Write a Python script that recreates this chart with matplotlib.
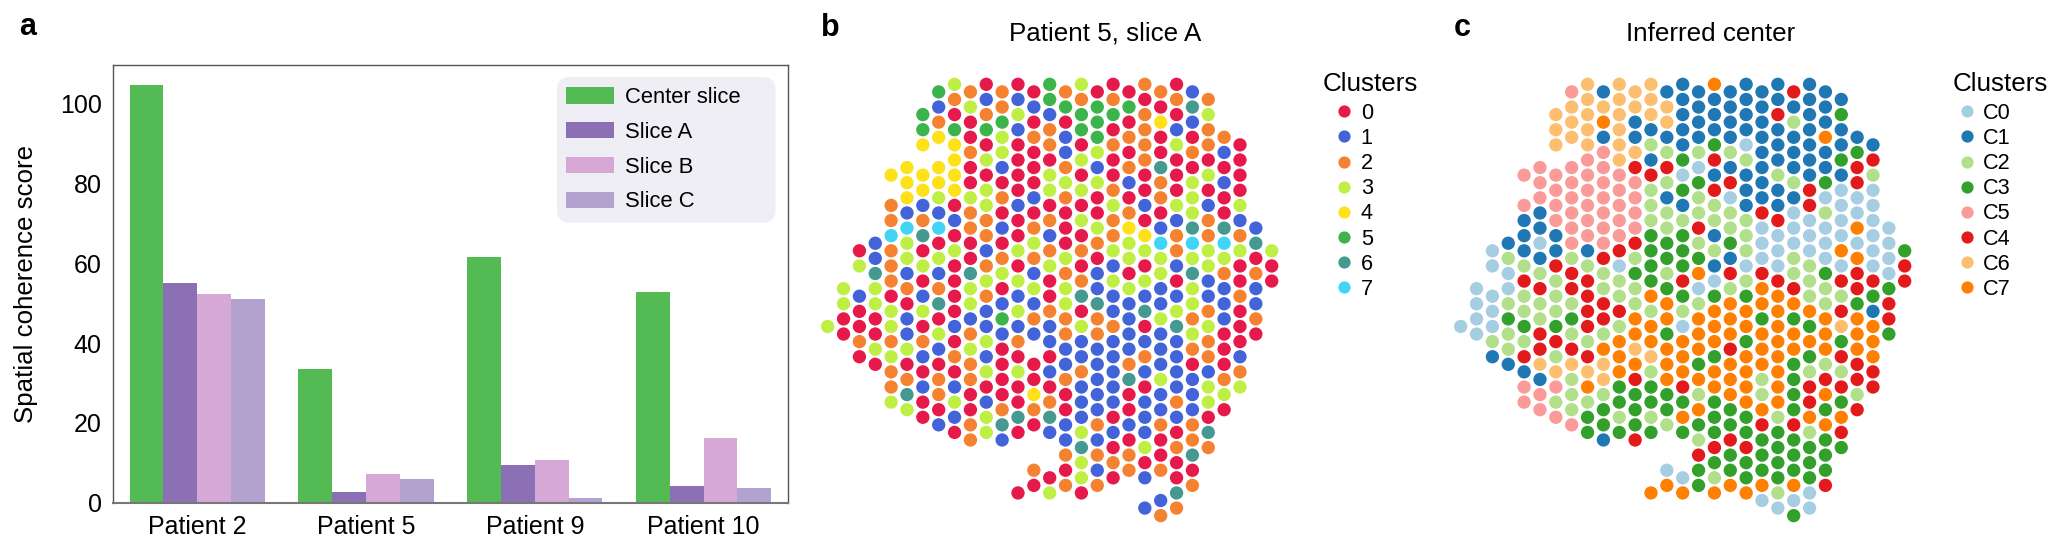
import matplotlib
matplotlib.use('Agg')
import matplotlib.pyplot as plt
from matplotlib.lines import Line2D
from matplotlib.patches import FancyBboxPatch
import numpy as np

plt.rcParams['font.family'] = ['Liberation Sans', 'DejaVu Sans']

W, H = 2067, 554

# panel a
patients = ['Patient 2', 'Patient 5', 'Patient 9', 'Patient 10']
center_slice = [104.6, 33.5, 61.6, 52.8]
slice_a = [55.0, 2.7, 9.5, 4.2]
slice_b = [52.3, 7.2, 10.7, 16.2]
slice_c = [51.1, 5.9, 1.2, 3.7]
bar_labels = ['Center slice', 'Slice A', 'Slice B', 'Slice C']
bar_colors = ['#54bb54', '#8c70b6', '#d5a8d6', '#b3a2d0']

# panels b and c: one string per spot column, first row of the column, '.' = no spot
b_start = [16, 13, 11, 10, 6, 5, 2, 0, 0, 0, 0, 0, 0, 0, 0, 0, 0, 0, 0, 0, 0, 0, 0, 0, 1, 3, 4, 9, 11]
b_cols = [
    '3', '3300', '03.10020', '116330030', '4.22722203323223', '44417331201130263',
    '554.44126030130210100', '5124.443170312603102201',
    '320544440103000010201310', '230020032200633123220022',
    '012503033221232113130133', '225331020102301510000261',
    '013100001003031312030060...0', '01020001023213121.00420..20',
    '551220330212300211010261..03', '250112320003233221120011202',
    '3255030303020260311211136330', '055531300320116221111121212',
    '025020023223131121111101020', '05020210243303111126001022',
    '202222001043031601210111301.1', '20400622017331131113112002.12',
    '02013000312210136111121020062', '161020333673633232011122602',
    '232203012233112322133062', '2101006732111000230', '00003123002000123',
    '16021120', '300',
]
b_labels = ['0', '1', '2', '3', '4', '5', '6', '7']
b_colors = ['#e6194b', '#4363d8', '#f58231', '#bfef45', '#ffe119', '#3cb44b', '#469990', '#42d4f4']

c_start = b_start
c_cols = [
    '0', '0000', '00.00021', '120023221', '5.51112422324155', '55511012422446155',
    '666.55551142223426525', '5666.555555244232462225',
    '666665555551244442467233', '167155555554224427662331',
    '666666555554022427773323', '661164555542322776743334',
    '666121422233337277623323...7', '16612421223323773777332..07',
    '111113031233343207774373..07', '111120322423702777372732433',
    '7111341422121037773773334327', '111121402231427774777334337',
    '1111021112220237737777334337', '1111111140004773777227433370',
    '11411121140004777777772333320', '41211121000224737733334333703',
    '11111114400022273732447233300', '111711302000322777247373334',
    '131131000070424634243743', '1344007074437774424', '14200000043177744',
    '00003443', '344',
]
# legend order of the reference: C5 comes before C4
c_labels = ['C0', 'C1', 'C2', 'C3', 'C5', 'C4', 'C6', 'C7']
c_colors = {'C0': '#a6cee3', 'C1': '#1f78b4', 'C2': '#b2df8a', 'C3': '#33a02c',
            'C4': '#e31a1c', 'C5': '#fb9a99', 'C6': '#fdbf6f', 'C7': '#ff7f00'}


def px_axes(x0, y0, x1, y1):
    return fig.add_axes([x0 / W, 1 - y1 / H, (x1 - x0) / W, (y1 - y0) / H])


def draw_spots(ax, starts, cols, colors):
    xs, ys, cs = [], [], []
    for k, (start, col) in enumerate(zip(starts, cols)):
        for i, ch in enumerate(col):
            if ch == '.':
                continue
            xs.append(k)
            ys.append(2 * (start + i) + k % 2)
            cs.append(colors[int(ch)])
    ax.scatter(xs, ys, c=cs, s=92, linewidths=0, clip_on=False)
    ax.set_xlim(0, 28)
    ax.set_ylim(57, 0)
    ax.axis('off')


def spot_legend(ax, labels, colors, anchor_px, handlelength, pad):
    handles = [Line2D([], [], ls='none', marker='o', ms=8.8, mew=0, color=col, label=lab)
               for lab, col in zip(labels, colors)]
    leg = ax.legend(handles=handles, title='Clusters', frameon=False, loc='upper left',
                    bbox_to_anchor=(anchor_px[0] / W, 1 - anchor_px[1] / H),
                    bbox_transform=fig.transFigure, alignment='left', borderpad=0,
                    borderaxespad=0, fontsize=15.6, title_fontsize=18.7,
                    handlelength=handlelength, handletextpad=pad, labelspacing=0.19)
    # a little more room under the title
    leg._legend_box.sep = 5
    return leg


fig = plt.figure(figsize=(W / 100, H / 100), dpi=100)

# a
ax = px_axes(112.8, 64.7, 788, 502.8)
x = np.arange(len(patients))
for i, vals in enumerate([center_slice, slice_a, slice_b, slice_c]):
    ax.bar(x - 0.3 + 0.2 * i, vals, 0.2, color=bar_colors[i], label=bar_labels[i])
ax.set_xlim(-0.5, 3.5)
ax.set_ylim(0, 109.7)
ax.set_xticks(x, patients)
ax.set_yticks([0, 20, 40, 60, 80, 100])
ax.tick_params(length=0, labelsize=18)
ax.tick_params(axis='x', pad=9)
ax.tick_params(axis='y', pad=8)
for s in ax.spines.values():
    s.set_color('#555555')
    s.set_linewidth(1)
ax.spines['bottom'].set_color('#777777')
ax.spines['bottom'].set_linewidth(1.5)
fig.text(26.5 / W, 1 - 283.7 / H, 'Spatial coherence score', rotation=90,
         ha='center', va='center', fontsize=18.6)

# legend box is wider than its content in the reference, so it is drawn apart
box = FancyBboxPatch((561 / W, 1 - 218.6 / H), 210.5 / W, 137.6 / H,
                     boxstyle='round,pad=0,rounding_size=0.004', mutation_aspect=W / H,
                     transform=fig.transFigure, facecolor='#eeeef4', edgecolor='#eeeef4',
                     linewidth=8 * 0.72, zorder=2.5)
ax.add_patch(box)
leg_a = ax.legend(loc='upper left', bbox_to_anchor=(566 / W, 1 - 87 / H),
                  bbox_transform=fig.transFigure, borderaxespad=0, fontsize=15.8,
                  frameon=False, handlelength=2.2, handleheight=0.77, handletextpad=0.48,
                  labelspacing=0.63, borderpad=0)
leg_a.set_zorder(3)

# b
ax_b = px_axes(827.7, 84.33, 1271.7, 515.65)
draw_spots(ax_b, b_start, b_cols, b_colors)
spot_legend(ax_b, b_labels, b_colors, (1323, 72), 1.93, -0.19)

# c
ax_c = px_axes(1460.7, 84.33, 1904.7, 515.65)
c_idx = ['C0', 'C1', 'C2', 'C3', 'C4', 'C5', 'C6', 'C7']
draw_spots(ax_c, c_start, c_cols, [c_colors[n] for n in c_idx])
spot_legend(ax_c, c_labels, [c_colors[n] for n in c_labels], (1952.7, 72), 1.29, 0.12)

fig.text(1105 / W, 1 - 40.7 / H, 'Patient 5, slice A', ha='center', va='baseline', fontsize=18.7)
fig.text(1711 / W, 1 - 40.7 / H, 'Inferred center', ha='center', va='baseline', fontsize=18.7)
fig.text(28 / W, 1 - 35.3 / H, 'a', ha='center', va='baseline', fontsize=22, fontweight='bold')
fig.text(830 / W, 1 - 36 / H, 'b', ha='center', va='baseline', fontsize=22, fontweight='bold')
fig.text(1462 / W, 1 - 36 / H, 'c', ha='center', va='baseline', fontsize=22, fontweight='bold')

fig.savefig('out.png', dpi=100)
